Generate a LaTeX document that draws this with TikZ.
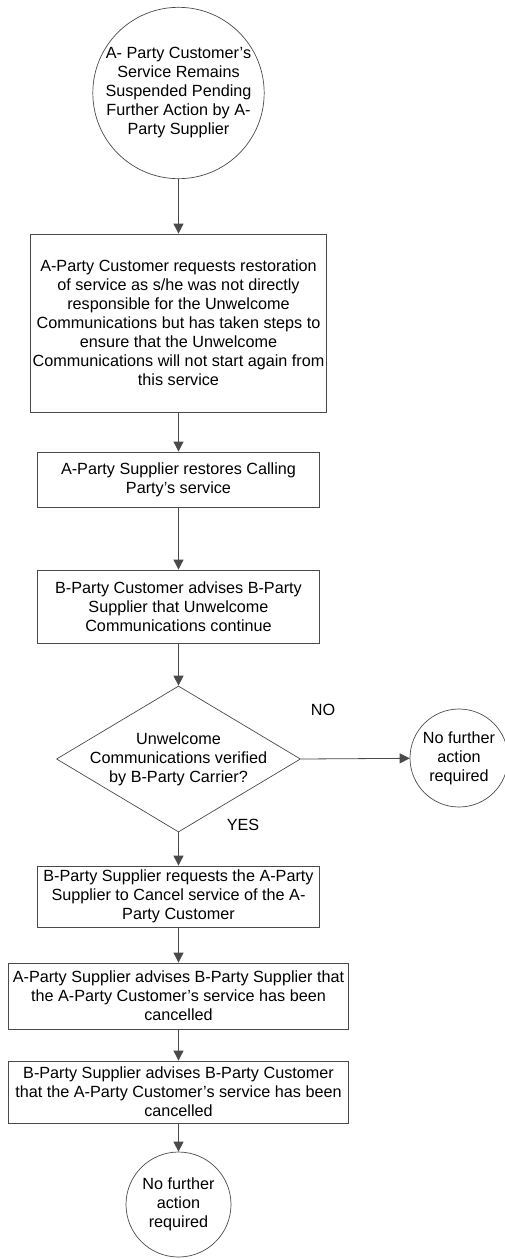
\documentclass[tikz,border=0pt]{standalone}
\usepackage{fontspec}
\setmainfont{Liberation Sans}
\usetikzlibrary{shapes.geometric,arrows.meta}
\definecolor{linegray}{HTML}{4A4A4A}
\begin{document}
\begin{tikzpicture}[x=1pt,y=-1pt,
  every node/.style={font=\fontsize{16.2}{19}\selectfont, text=black},
  box/.style={draw=linegray, line width=0.8pt, rectangle, align=center, inner sep=0pt},
  circ/.style={draw=linegray, line width=0.7pt, circle, align=center, inner sep=0pt},
  dia/.style={draw=linegray, line width=0.7pt, diamond, inner sep=0pt},
  lbl/.style={align=center, inner sep=0pt},
  conn/.style={draw=linegray, line width=0.8pt, -{Triangle[width=10pt,length=10pt]}}
]
\useasboundingbox[fill=white] (0,0) rectangle (504,1259);

\node[circ, minimum size=168pt] (c1) at (178.5,93) {A- Party Customer’s\\Service Remains\\Suspended Pending\\Further Action by A-\\Party Supplier};

\node[box, minimum width=296pt, minimum height=178pt] (b1) at (178.5,323) {A-Party Customer requests restoration\\of service as s/he was not directly\\responsible for the Unwelcome\\Communications but has taken steps to\\ensure that the Unwelcome\\Communications will not start again from\\this service};

\node[box, minimum width=282pt, minimum height=55pt] (b2) at (178.5,479.5) {A-Party Supplier restores Calling\\Party’s service};

\node[box, minimum width=282pt, minimum height=73pt] (b3) at (178.5,606.5) {B-Party Customer advises B-Party\\Supplier that Unwelcome\\Communications continue};

\node[dia, minimum width=244pt, minimum height=146pt] (d) at (178.5,759) {};
\node[lbl] (dt) at (d.center) {Unwelcome\\Communications verified\\by B-Party Carrier?};

\node[lbl] (no) at (323,710) {NO};
\node[lbl] (yes) at (243,825) {YES};

\node[circ, minimum size=98pt] (rc) at (459,758) {No further\\action\\required};

\node[box, minimum width=282pt, minimum height=61pt] (b4) at (178.5,896.5) {B-Party Supplier requests the A-Party\\Supplier to Cancel service of the A-\\Party Customer};

\node[box, minimum width=340pt, minimum height=66pt] (b5) at (178.5,996) {A-Party Supplier advises B-Party Supplier that\\the A-Party Customer’s service has been\\cancelled};

\node[box, minimum width=340pt, minimum height=62pt] (b6) at (178.5,1092) {B-Party Supplier advises B-Party Customer\\that the A-Party Customer’s service has been\\cancelled};

\node[circ, minimum size=105pt] (c2) at (178.5,1204.5) {No further\\action\\required};

\draw[conn] (c1) -- (b1);
\draw[conn] (b1) -- (b2);
\draw[conn] (b2) -- (b3);
\draw[conn] (b3) -- (d);
\draw[conn] (d.east) -- (rc);
\draw[conn] (d.south) -- (b4);
\draw[conn] (b4) -- (b5);
\draw[conn] (b5) -- (b6);
\draw[conn] (b6) -- (c2);
\end{tikzpicture}
\end{document}
